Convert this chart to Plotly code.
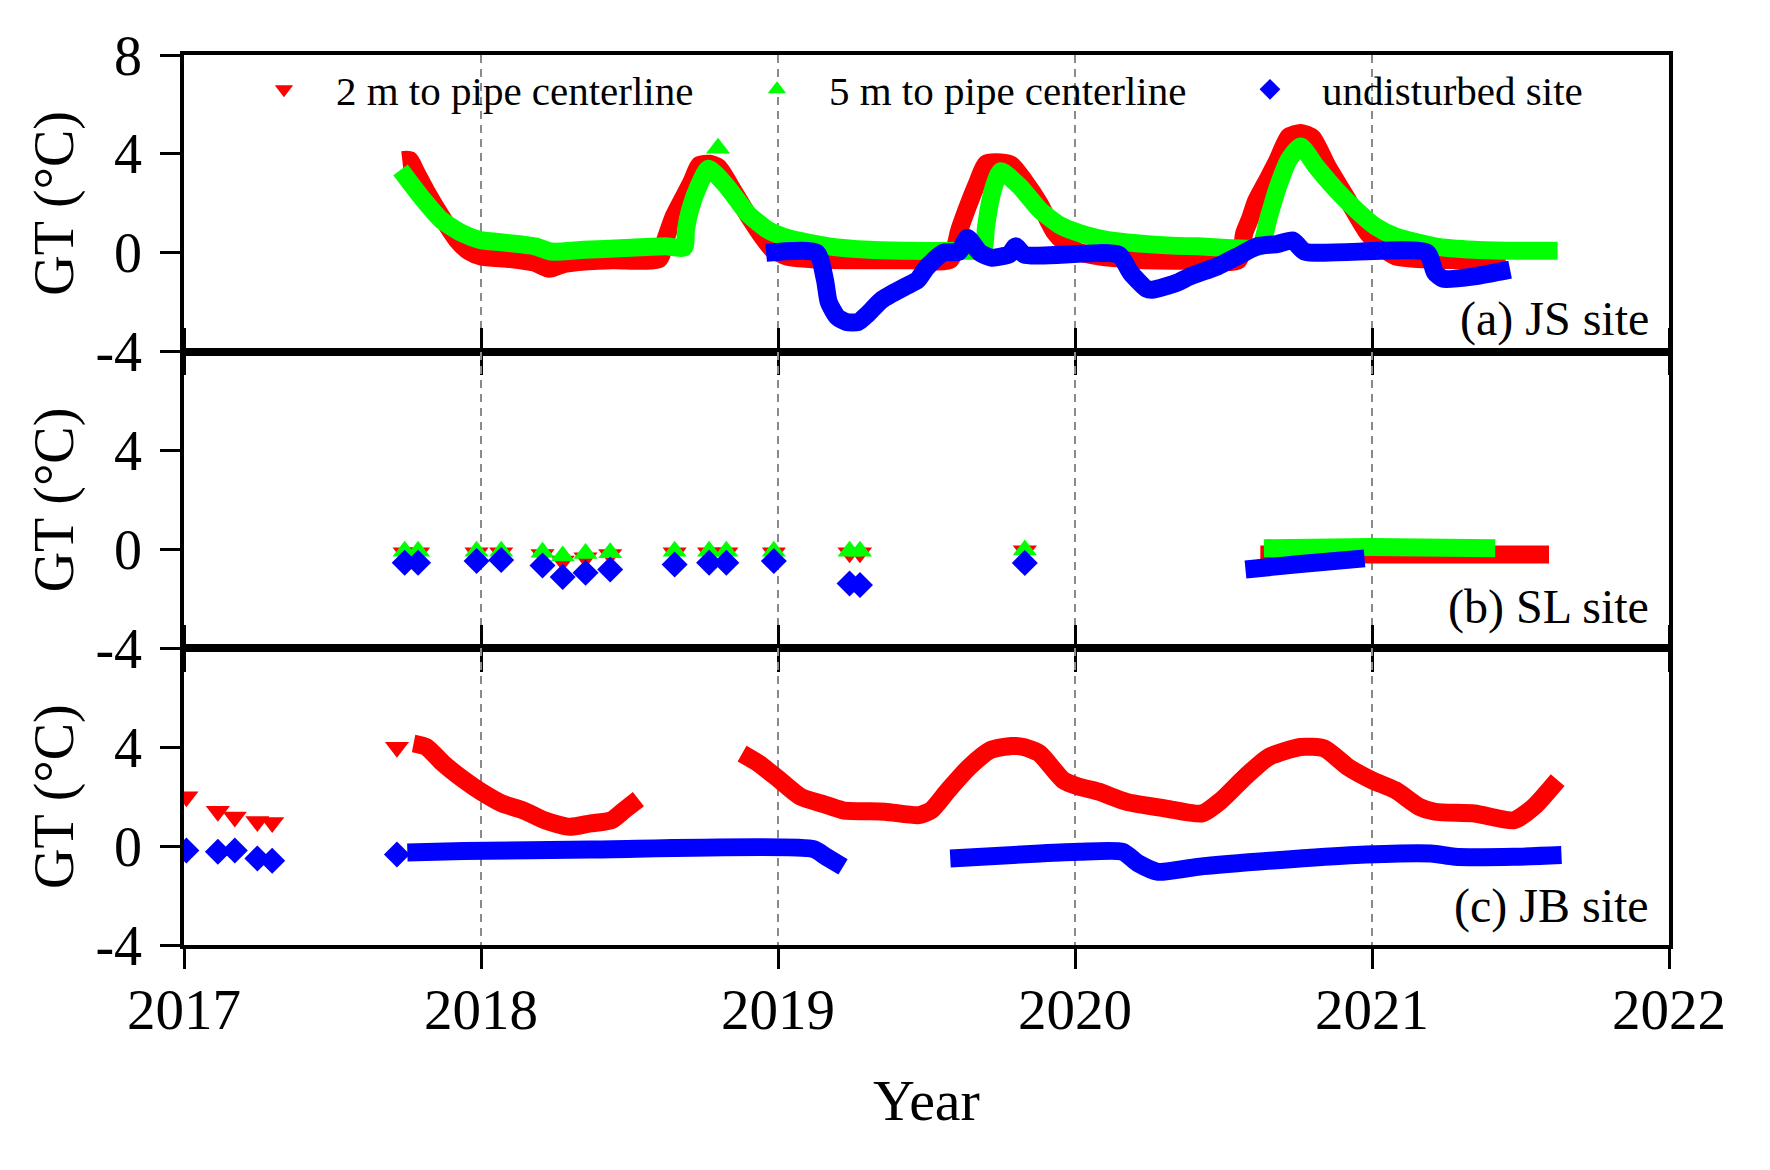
import plotly.graph_objects as go
from plotly.subplots import make_subplots

FONT = "Liberation Serif, Times New Roman, serif"
RED, GREEN, BLUE = "#ff0000", "#00ff00", "#0000ff"

# (a) JS site - 2 m to pipe centerline
js_2m_year = [2017.735, 2017.760, 2017.780, 2017.820, 2017.870, 2017.920, 2017.960, 2018.000,
              2018.100, 2018.180, 2018.230, 2018.280, 2018.350, 2018.450, 2018.600, 2018.620,
              2018.650, 2018.680, 2018.710, 2018.735, 2018.770, 2018.800, 2018.850, 2018.900,
              2018.950, 2018.980, 2019.030, 2019.150, 2019.300, 2019.450, 2019.580, 2019.610,
              2019.640, 2019.670, 2019.700, 2019.750, 2019.787, 2019.830, 2019.880, 2019.930,
              2019.970, 2020.010, 2020.080, 2020.200, 2020.400, 2020.550, 2020.570, 2020.590,
              2020.610, 2020.650, 2020.680, 2020.720, 2020.760, 2020.800, 2020.850, 2020.920,
              2020.985, 2021.030, 2021.080, 2021.200, 2021.450]
js_2m_gt = [3.75, 3.75, 3.30, 2.40, 1.40, 0.50, 0.05, -0.15,
            -0.25, -0.40, -0.65, -0.45, -0.35, -0.30, -0.25, 0.50,
            1.50, 2.20, 2.90, 3.55, 3.60, 3.45, 2.50, 1.50,
            0.60, 0.15, -0.15, -0.28, -0.30, -0.30, -0.28, 0.90,
            1.90, 2.80, 3.60, 3.65, 3.55, 2.90, 2.00, 0.85,
            0.35, 0.05, -0.15, -0.28, -0.32, -0.30, 0.80, 1.40,
            2.10, 3.00, 3.70, 4.70, 4.85, 4.65, 3.50, 2.10,
            0.80, 0.25, -0.15, -0.28, -0.28]

# (a) JS site - 5 m to pipe centerline
js_5m_year = [2017.729, 2017.797, 2017.866, 2017.935, 2017.997, 2018.072, 2018.182, 2018.237,
              2018.347, 2018.484, 2018.622, 2018.684, 2018.690, 2018.704, 2018.732, 2018.766,
              2018.828, 2018.897, 2018.965, 2019.034, 2019.171, 2019.309, 2019.446, 2019.600,
              2019.690, 2019.700, 2019.710, 2019.725, 2019.750, 2019.814, 2019.881, 2019.947,
              2020.014, 2020.080, 2020.147, 2020.280, 2020.413, 2020.620, 2020.653, 2020.680,
              2020.720, 2020.760, 2020.812, 2020.879, 2020.946, 2021.012, 2021.079, 2021.212,
              2021.345, 2021.478, 2021.625]
js_5m_gt = [3.35, 2.28, 1.33, 0.80, 0.52, 0.42, 0.26, 0.05,
            0.12, 0.19, 0.26, 0.22, 0.93, 1.74, 2.68, 3.40,
            2.68, 1.60, 0.93, 0.59, 0.26, 0.12, 0.08, 0.08,
            0.15, 1.00, 1.80, 2.60, 3.30, 2.68, 1.74, 1.13,
            0.80, 0.59, 0.46, 0.32, 0.26, 0.26, 1.47, 2.55,
            3.76, 4.30, 3.49, 2.55, 1.74, 1.06, 0.66, 0.26,
            0.12, 0.08, 0.08]
js_5m_single_year = [2018.798]
js_5m_single_gt = [4.23]

# (a) JS site - undisturbed
js_und_year = [2018.960, 2019.130, 2019.158, 2019.171, 2019.200, 2019.230, 2019.270, 2019.300,
               2019.350, 2019.430, 2019.470, 2019.500, 2019.556, 2019.610, 2019.638, 2019.680,
               2019.720, 2019.780, 2019.800, 2019.830, 2020.147, 2020.187, 2020.240, 2020.260,
               2020.346, 2020.386, 2020.480, 2020.546, 2020.613, 2020.680, 2020.733, 2020.773,
               2021.185, 2021.212, 2021.239, 2021.345, 2021.465]
js_und_gt = [0.00, 0.00, -1.09, -2.00, -2.60, -2.80, -2.80, -2.50,
             -1.90, -1.36, -1.10, -0.60, 0.00, 0.05, 0.60, 0.00,
             -0.20, -0.05, 0.26, -0.08, -0.08, -0.80, -1.45, -1.50,
             -1.20, -0.96, -0.55, -0.15, 0.26, 0.35, 0.50, 0.05,
             0.00, -0.80, -1.05, -0.95, -0.68]

# (b) SL site - manual readings
sl_pts_year = [2017.743, 2017.788, 2017.985, 2018.068, 2018.207, 2018.275, 2018.352, 2018.435,
               2018.652, 2018.768, 2018.826, 2018.986, 2019.241, 2019.276, 2019.831]
sl_pts_2m = [-0.13, -0.13, -0.13, -0.13, -0.20, -0.47, -0.34, -0.20,
             -0.13, -0.13, -0.13, -0.13, -0.13, -0.13, -0.05]
sl_pts_5m = [-0.07, -0.07, -0.07, -0.07, -0.11, -0.27, -0.16, -0.13,
             -0.07, -0.07, -0.07, -0.07, -0.07, -0.07, -0.02]
sl_pts_und = [-0.54, -0.54, -0.47, -0.43, -0.65, -1.11, -0.94, -0.81,
              -0.61, -0.54, -0.54, -0.47, -1.38, -1.44, -0.55]

# (b) SL site - logger
sl_2m_year = [2020.624, 2021.000, 2021.596]
sl_2m_gt = [-0.20, -0.20, -0.20]
sl_5m_year = [2020.636, 2021.000, 2021.415]
sl_5m_gt = [0.05, 0.10, 0.05]
sl_und_year = [2020.574, 2020.750, 2020.975]
sl_und_gt = [-0.81, -0.60, -0.36]

# (c) JB site - manual readings
jb_pts_year = [2017.008, 2017.114, 2017.171, 2017.247, 2017.297, 2017.717]
jb_pts_2m = [2.00, 1.41, 1.18, 1.00, 0.95, 4.00]
jb_pts_und = [-0.18, -0.23, -0.18, -0.50, -0.59, -0.34]

# (c) JB site - logger (None marks a data gap)
jb_2m_year = [2017.773, 2017.816, 2017.873, 2017.943, 2018.000, 2018.071, 2018.142, 2018.213,
              2018.298, 2018.369, 2018.439, 2018.482, 2018.530, None,
              2018.879, 2018.935, 2019.006, 2019.077, 2019.148, 2019.219, 2019.360, 2019.474,
              2019.516, 2019.573, 2019.644, 2019.715, 2019.786, 2019.827, 2019.881, 2019.960,
              2020.014, 2020.080, 2020.174, 2020.307, 2020.427, 2020.493, 2020.573, 2020.653,
              2020.759, 2020.839, 2020.919, 2020.999, 2021.079, 2021.159, 2021.212, 2021.345,
              2021.478, 2021.545, 2021.625]
jb_2m_gt = [4.15, 4.01, 3.34, 2.67, 2.20, 1.72, 1.45, 1.05,
            0.78, 0.92, 1.05, 1.45, 1.90, None,
            3.74, 3.34, 2.67, 1.99, 1.72, 1.45, 1.39, 1.25,
            1.45, 2.26, 3.20, 3.88, 4.05, 4.01, 3.74, 2.67,
            2.40, 2.20, 1.79, 1.52, 1.32, 1.86, 2.80, 3.61,
            4.01, 3.95, 3.20, 2.67, 2.26, 1.59, 1.39, 1.32,
            1.05, 1.59, 2.67]
jb_und_year = [2017.752, 2017.943, 2018.369, 2019.120, 2019.162, 2019.219, None,
               2019.580, 2019.882, 2020.014, 2020.160, 2020.213, 2020.280, 2020.413, 2020.680,
               2020.946, 2021.199, 2021.279, 2021.478, 2021.638]
jb_und_gt = [-0.26, -0.20, -0.14, -0.12, -0.43, -0.84, None,
             -0.50, -0.30, -0.23, -0.23, -0.70, -1.04, -0.84, -0.57,
             -0.36, -0.30, -0.43, -0.43, -0.36]

series_names = ["2 m to pipe centerline", "5 m to pipe centerline", "undisturbed site"]
series_colors = [RED, GREEN, BLUE]
series_symbols = ["triangle-down", "triangle-up", "diamond"]
site_labels = ["(a) JS site", "(b) SL site", "(c) JB site"]
year_ticks = [2017, 2018, 2019, 2020, 2021, 2022]

BAND = 18    # width of the dense logger bands
SYM_SIZE = {"triangle-down": 21, "triangle-up": 21, "diamond": 20}

fig = make_subplots(rows=3, cols=1, shared_xaxes=True, vertical_spacing=0)


def band(x, y, color, row):
    fig.add_trace(go.Scatter(x=x, y=y, mode="lines",
                             line=dict(color=color, width=BAND, shape="spline", smoothing=0.6),
                             showlegend=False, hoverinfo="skip"), row=row, col=1)


def dots(x, y, color, symbol, row):
    fig.add_trace(go.Scatter(x=x, y=y, mode="markers",
                             marker=dict(color=color, symbol=symbol, size=SYM_SIZE[symbol],
                                         line_width=0),
                             showlegend=False, hoverinfo="skip"), row=row, col=1)


# panel a
band(js_2m_year, js_2m_gt, RED, 1)
band(js_5m_year, js_5m_gt, GREEN, 1)
dots(js_5m_single_year, js_5m_single_gt, GREEN, "triangle-up", 1)
band(js_und_year, js_und_gt, BLUE, 1)

# panel b
band(sl_2m_year, sl_2m_gt, RED, 2)
band(sl_5m_year, sl_5m_gt, GREEN, 2)
band(sl_und_year, sl_und_gt, BLUE, 2)
dots(sl_pts_year, sl_pts_2m, RED, "triangle-down", 2)
dots(sl_pts_year, sl_pts_5m, GREEN, "triangle-up", 2)
dots(sl_pts_year, sl_pts_und, BLUE, "diamond", 2)

# panel c
band(jb_2m_year, jb_2m_gt, RED, 3)
band(jb_und_year, jb_und_gt, BLUE, 3)
dots(jb_pts_year, jb_pts_2m, RED, "triangle-down", 3)
dots(jb_pts_year, jb_pts_und, BLUE, "diamond", 3)

# legend entries
for name, color, symbol in zip(series_names, series_colors, series_symbols):
    fig.add_trace(go.Scatter(x=[None], y=[None], mode="markers", name=name,
                             marker=dict(color=color, symbol=symbol, size=17)), row=1, col=1)

for i in range(1, 4):
    fig.update_xaxes(range=[2017, 2022], tickvals=year_ticks, showgrid=True,
                     gridcolor="#8a8a8a", gridwidth=1.5, griddash="8px,6px",
                     showline=True, linecolor="black", linewidth=3.5, zeroline=False,
                     ticks="outside", ticklen=20, tickwidth=3, tickcolor="black",
                     mirror=True if i == 1 else "ticks",
                     showticklabels=(i == 3), row=i, col=1)
    vals = [-4, 0, 4, 8] if i == 1 else [-4, 0, 4]
    fig.update_yaxes(range=[-4, 8], tickvals=vals, ticktext=[str(v) for v in vals],
                     showgrid=False, zeroline=False, showline=True, linecolor="black",
                     linewidth=3.5, mirror=True, ticks="outside", ticklen=20, tickwidth=3,
                     tickcolor="black", tickfont=dict(size=56), ticklabelstandoff=7,
                     title=dict(text="GT (°C)", font=dict(size=56), standoff=5),
                     row=i, col=1)

fig.update_xaxes(tickfont=dict(size=57), ticklabelstandoff=-8,
                 title=dict(text="Year", font=dict(size=58), standoff=40), row=3, col=1)

label_y = [0.11, 0.14, 0.13]
for i, (text, ly) in enumerate(zip(site_labels, label_y)):
    suffix = "" if i == 0 else str(i + 1)
    fig.add_annotation(text=text, xref="x" + suffix + " domain", yref="y" + suffix + " domain",
                       x=0.988, y=ly, xanchor="right", yanchor="middle", showarrow=False,
                       font=dict(size=48, color="black"))

# the page body adds an 8 px offset, so margins are shifted by that amount
fig.update_layout(
    width=1770, height=1170,
    margin=dict(l=176, r=109, t=47, b=233),
    paper_bgcolor="white", plot_bgcolor="white",
    font=dict(family=FONT, color="black"),
    legend=dict(orientation="h", x=0.0323, y=0.961, xanchor="left", yanchor="middle",
                font=dict(size=41), bgcolor="rgba(0,0,0,0)", itemwidth=94,
                entrywidth=384, entrywidthmode="pixels"),
)

fig.write_html("out.html")
